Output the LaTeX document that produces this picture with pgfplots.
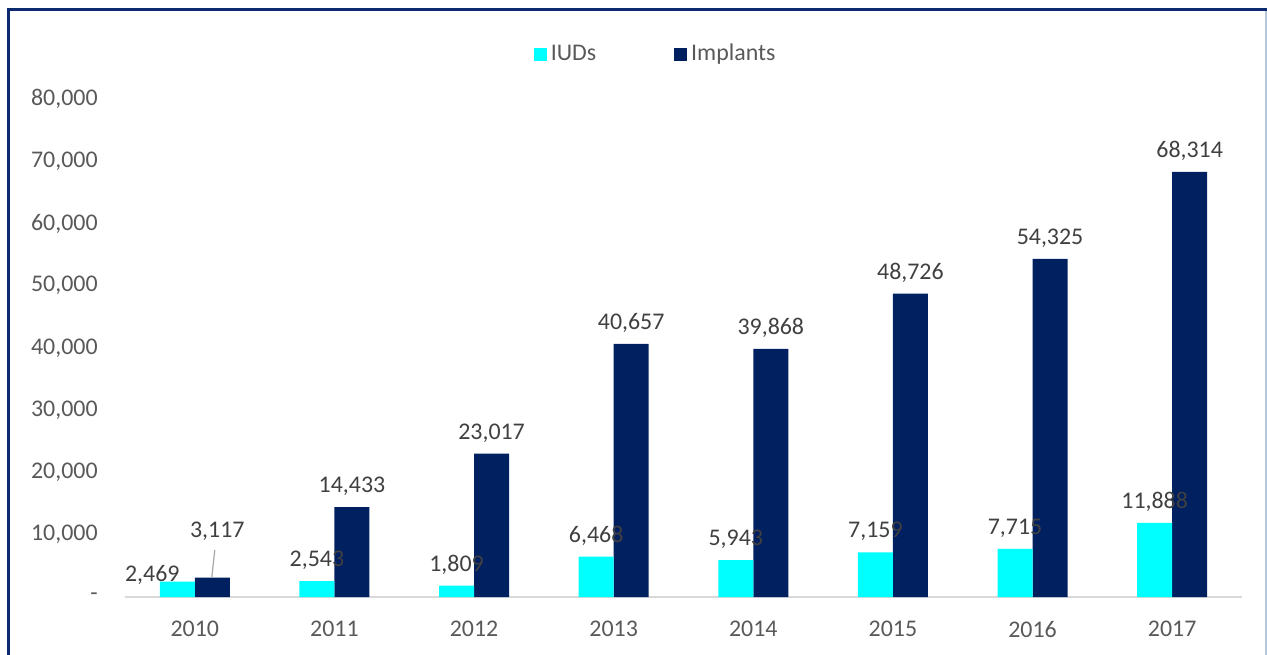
\documentclass[border=0pt]{standalone}
\usepackage{fontspec}
\setmainfont{Carlito}
\usepackage{pgfplots}
\usepackage{pgfplotstable}
\pgfplotsset{compat=1.18}
\definecolor{iud}{HTML}{00FFFF}
\definecolor{impl}{HTML}{002060}
\definecolor{txt}{HTML}{595959}
\definecolor{lbl}{HTML}{404040}
\definecolor{frameL}{HTML}{0E2A6E}
\definecolor{frameR}{HTML}{B4C7DC}
\definecolor{base}{HTML}{D9D9D9}
\definecolor{leader}{HTML}{A6A6A6}

\pgfplotstableread{
x y lab dx dy
0 2469 2,469 -21.25 -1.8
1 2543 2,543 -8.75 5.5
2 1809 1,809 -8.75 5.5
3 6468 6,468 -8.75 5.5
4 5943 5,943 -8.75 5.5
5 7159 7,159 -8.75 5.5
6 7715 7,715 -8.75 5.5
7 11888 11,888 -8.75 5.5
}\iuds

\pgfplotstableread{
x y lab dx dy
0 3117 3,117 11.25 18.2
1 14433 14,433 8.75 5.5
2 23017 23,017 8.75 5.5
3 40657 40,657 8.75 5.5
4 39868 39,868 8.75 5.5
5 48726 48,726 8.75 5.5
6 54325 54,325 8.75 5.5
7 68314 68,314 8.75 5.5
}\implants

\begin{document}
\fontsize{12}{14}\selectfont
\begin{tikzpicture}
\useasboundingbox (0,0) rectangle (633.5bp,327.5bp);
% chart frame
\draw[frameR, line width=0.75bp] (633bp,322.5bp) -- (633bp,0bp);
\draw[frameL, line width=1.5bp] (4bp,0bp) -- (4bp,322.5bp) -- (633.5bp,322.5bp);
\begin{axis}[
  at={(62.5bp,29bp)}, anchor=south west,
  scale only axis, width=558.5bp, height=249bp,
  xmin=-0.5, xmax=7.5, ymin=0, ymax=80000,
  enlargelimits=false,
  scaled y ticks=false,
  axis x line*=bottom, axis y line*=left,
  x axis line style={draw=base, line width=1bp, -},
  y axis line style={draw=none},
  major tick length=0pt,
  xtick={0,...,7},
  xticklabels={2010,2011,2012,2013,2014,2015,2016,2017},
  ytick={0,10000,20000,30000,40000,50000,60000,70000,80000},
  yticklabels={{-\hspace{6.5bp}},{10,000},{20,000},{30,000},{40,000},{50,000},{60,000},{70,000},{80,000}},
  xticklabel style={inner sep=0pt, yshift=-12bp, text=txt, font=\fontsize{12}{14}\selectfont},
  yticklabel style={inner sep=0pt, xshift=-13.5bp, text=txt, font=\fontsize{12}{14}\selectfont},
  legend columns=2,
  reverse legend,
  legend style={at={(0.476,1.09)}, anchor=center, draw=none, fill=none,
    font=\fontsize{12}{14}\selectfont, text=txt,
    /tikz/every even column/.append style={column sep=37bp}},
  point meta=explicit symbolic,
  visualization depends on={\thisrow{dx} \as \dx},
  visualization depends on={\thisrow{dy} \as \dy},
  nodes near coords,
  every node near coord/.append style={anchor=south, inner sep=0pt,
    xshift=\dx bp, yshift=\dy bp, text=lbl, font=\fontsize{12}{14}\selectfont},
  clip=false,
]
\addplot[ybar, bar width=17.5bp, bar shift=8.75bp, fill=impl, draw=none,
  legend image code/.code={\fill[impl] (0bp,-3.25bp) rectangle (6.5bp,3.25bp);}]
  table[x=x, y=y, meta=lab] {\implants};
\addlegendentry{Implants}
\addplot[ybar, bar width=17.5bp, bar shift=-8.75bp, fill=iud, draw=none,
  legend image code/.code={\fill[iud] (0bp,-3.25bp) rectangle (6.5bp,3.25bp);}]
  table[x=x, y=y, meta=lab] {\iuds};
\addlegendentry{IUDs}
\draw[leader, line width=0.6bp] (axis cs:0.122,3213) -- (axis cs:0.143,7550);
\end{axis}
\end{tikzpicture}
\end{document}
